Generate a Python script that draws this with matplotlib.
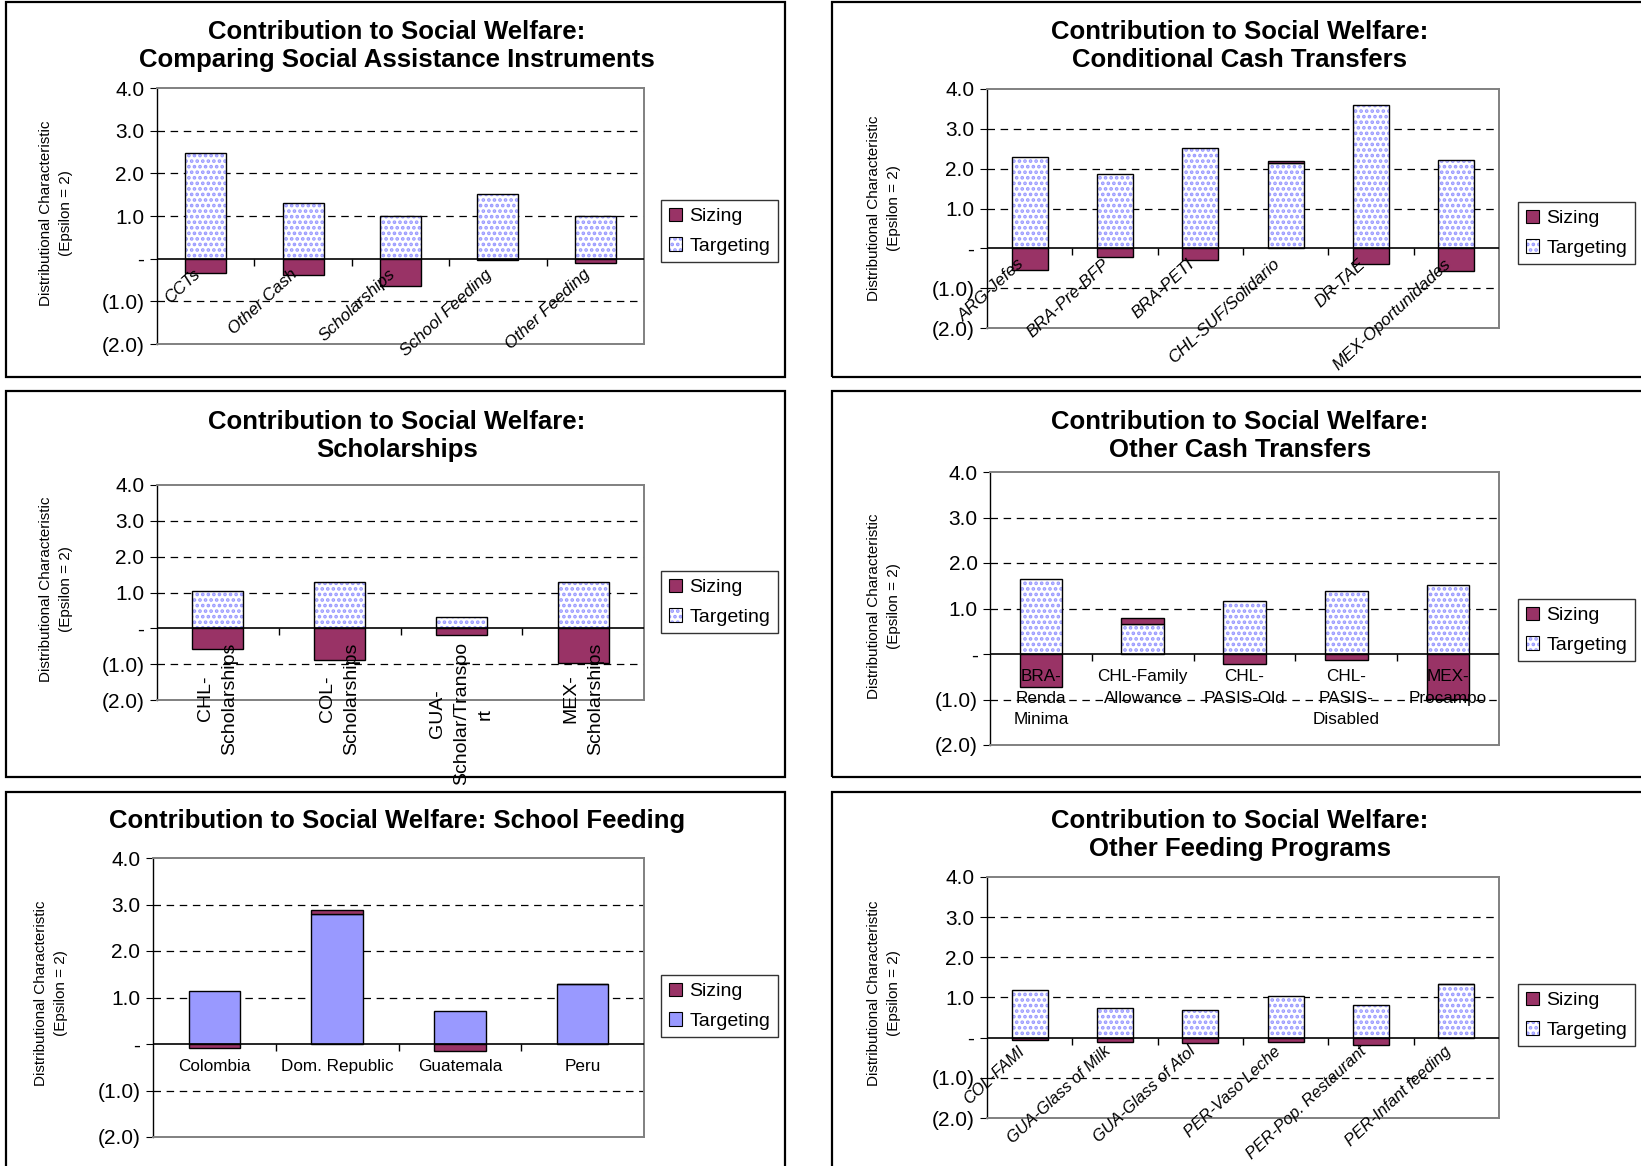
import matplotlib
matplotlib.use('Agg')
import matplotlib.pyplot as plt
import matplotlib.colors as mcolors
from matplotlib.patches import Rectangle, Patch
from matplotlib import transforms
import numpy as np

plt.rcParams['font.family'] = ['Liberation Sans', 'DejaVu Sans']
plt.rcParams['hatch.linewidth'] = 1.8

W, H = 1641, 1166
fig = plt.figure(figsize=(W / 100, H / 100), dpi=100)


def fx(x):
    return x / W


def fy(y):
    return 1 - y / H


SIZING_COLOR = '#993366'
TARGET_COLOR = '#9999FF'

# ---------------- data ----------------
inst_cats = ["CCTs", "Other Cash", "Scholarships", "School Feeding", "Other Feeding"]
inst_target = [2.48, 1.30, 0.99, 1.51, 0.99]
inst_sizing = [-0.34, -0.38, -0.65, -0.04, -0.11]

cct_cats = ["ARG-Jefes", "BRA-Pre-BFP", "BRA-PETI", "CHL-SUF/Solidario", "DR-TAE", "MEX-Oportunidades"]
cct_target = [2.30, 1.87, 2.53, 2.15, 3.60, 2.23]
cct_sizing = [-0.54, -0.22, -0.29, 0.05, -0.40, -0.58]

schol_cats = ["CHL-\nScholarships", "COL-\nScholarships", "GUA-\nScholar/Transpo\nrt", "MEX-\nScholarships"]
schol_target = [1.04, 1.29, 0.33, 1.29]
schol_sizing = [-0.59, -0.89, -0.18, -0.98]

occ_cats = ["BRA-\nRenda\nMinima", "CHL-Family\nAllowance", "CHL-\nPASIS-Old", "CHL-\nPASIS-\nDisabled", "MEX-\nProcampo"]
occ_target = [1.65, 0.66, 1.16, 1.39, 1.52]
occ_sizing = [-0.72, 0.14, -0.23, -0.13, -0.98]

sf_cats = ["Colombia", "Dom. Republic", "Guatemala", "Peru"]
sf_target = [1.13, 2.79, 0.72, 1.29]
sf_sizing = [-0.09, 0.10, -0.15, 0.0]

of_cats = ["COL-FAMI", "GUA-Glass of Milk", "GUA-Glass of Atol", "PER-Vaso Leche", "PER-Pop. Restaurant", "PER-Infant feeding"]
of_target = [1.18, 0.73, 0.70, 1.03, 0.82, 1.33]
of_sizing = [-0.07, -0.11, -0.14, -0.11, -0.19, 0.0]

yticks = [4, 3, 2, 1, 0, -1, -2]
ytick_labels = ["4.0", "3.0", "2.0", "1.0", "-", "(1.0)", "(2.0)"]
series_names = ["Sizing", "Targeting"]
ylabel_text = "Distributional Characteristic\n(Epsilon = 2)"

PX = 0.72  # points per pixel at dpi 100


def panel(box, axbox, leg_xy, title, title_xy, ylab_xy, cats, target, sizing,
          style, solid=False, rot_fs=12.3, rot_off=(-13, -8)):
    x0, y0, x1, y1 = box
    fig.add_artist(Rectangle((fx(x0), fy(y1)), (x1 - x0) / W, (y1 - y0) / H,
                             transform=fig.transFigure, fill=False,
                             edgecolor='black', lw=1.6, zorder=0))
    l, t, r, b = axbox
    ax = fig.add_axes([fx(l), fy(b), (r - l) / W, (b - t) / H])
    n = len(cats)
    x = np.arange(n)
    target = np.asarray(target)
    sizing = np.asarray(sizing)
    ax.set_xlim(-0.5, n - 0.5)
    ax.set_ylim(-2, 4)
    for g in [3, 2, 1, -1]:
        ax.axhline(g, color='black', ls=(0, (6, 4.5)), lw=0.9, zorder=1)
    hatch = None if solid else '...'
    fc = TARGET_COLOR if solid else 'white'
    tb = ax.bar(x, target, width=0.42, facecolor=fc, edgecolor='black',
                lw=1.0, hatch=hatch, zorder=3)
    if not solid:
        for p in tb:
            p._hatch_color = mcolors.to_rgba(TARGET_COLOR)
    bottoms = np.where(sizing >= 0, target, 0)
    ax.bar(x, sizing, bottom=bottoms, width=0.42, facecolor=SIZING_COLOR,
           edgecolor='black', lw=1.0, zorder=3)
    ax.axhline(0, color='black', lw=1.2, zorder=4)
    ax.plot(x[:-1] + 0.5, np.zeros(n - 1), ls='none', marker=3, ms=5,
            color='black', mew=1.0, zorder=4)
    for s in ['top', 'right', 'bottom']:
        ax.spines[s].set_color('#808080')
        ax.spines[s].set_linewidth(1.4)
    ax.spines['left'].set_color('black')
    ax.spines['left'].set_linewidth(1.0)
    ax.set_yticks(yticks)
    ax.set_yticklabels(ytick_labels)
    ax.set_xticks([])
    ax.tick_params(axis='y', direction='out', length=5, labelsize=15, pad=4)

    # category labels
    for i, c in enumerate(cats):
        if style == 'rot':
            tr = transforms.offset_copy(ax.transData, fig=fig, x=rot_off[0] * PX,
                                        y=rot_off[1] * PX, units='points')
            ax.text(i, 0, c, transform=tr, rotation=43, rotation_mode='anchor',
                    ha='right', va='top', fontsize=rot_fs, fontstyle='italic', zorder=5)
        elif style == 'vert':
            tr = transforms.offset_copy(ax.transData, fig=fig, x=0, y=-14 * PX, units='points')
            ax.text(i, 0, c, transform=tr, rotation=90, ha='center', va='top',
                    multialignment='center', fontsize=14, linespacing=1.55,
                    zorder=5, clip_on=False)
        else:
            tr = transforms.offset_copy(ax.transData, fig=fig, x=0, y=-15 * PX, units='points')
            ax.text(i, 0, c, transform=tr, ha='center', va='top',
                    multialignment='center', fontsize=12.3, linespacing=1.55, zorder=5)

    # legend
    h1 = Patch(facecolor=SIZING_COLOR, edgecolor='black', lw=0.8)
    h2 = Patch(facecolor=fc, edgecolor='black', lw=0.8, hatch=hatch)
    if not solid:
        h2._hatch_color = mcolors.to_rgba(TARGET_COLOR)
    leg = fig.legend([h1, h2], series_names, loc='upper left',
                     bbox_to_anchor=(fx(leg_xy[0]), fy(leg_xy[1])),
                     frameon=True, fancybox=False, edgecolor='black',
                     fontsize=14, handlelength=0.7, handleheight=0.7,
                     handletextpad=0.35, borderpad=0.4, labelspacing=0.6,
                     borderaxespad=0)
    leg.get_frame().set_linewidth(1.0)

    fig.text(fx(title_xy[0]), fy(title_xy[1]), title, ha='center', va='center',
             fontsize=18.5, fontweight='bold', linespacing=1.22)
    fig.text(fx(ylab_xy[0]), fy(ylab_xy[1]), ylabel_text, rotation=90,
             ha='center', va='center', fontsize=11, linespacing=1.5)
    return ax


panel((6, 2, 785, 377), (157, 88, 644, 344), (661, 200),
      "Contribution to Social Welfare:\nComparing Social Assistance Instruments",
      (397, 46), (56, 213), inst_cats, inst_target, inst_sizing, 'rot')

panel((832, 2, 1660, 377), (987, 89, 1499, 328), (1518, 202),
      "Contribution to Social Welfare:\nConditional Cash Transfers",
      (1240, 46), (884, 208), cct_cats, cct_target, cct_sizing, 'rot')

panel((6, 391, 785, 777), (157, 485, 644, 700), (661, 571),
      "Contribution to Social Welfare:\nScholarships",
      (397, 436), (56, 589), schol_cats, schol_target, schol_sizing, 'vert')

panel((832, 391, 1660, 777), (990, 472, 1499, 745), (1518, 599),
      "Contribution to Social Welfare:\nOther Cash Transfers",
      (1240, 436), (884, 606), occ_cats, occ_target, occ_sizing, 'horiz')

panel((6, 792, 785, 1180), (153, 858, 644, 1137), (661, 975),
      "Contribution to Social Welfare: School Feeding",
      (397, 821), (51, 993), sf_cats, sf_target, sf_sizing, 'horiz', solid=True)

panel((832, 792, 1660, 1180), (987, 877, 1499, 1118), (1518, 984),
      "Contribution to Social Welfare:\nOther Feeding Programs",
      (1240, 835), (884, 993), of_cats, of_target, of_sizing, 'rot', rot_fs=11.8,
      rot_off=(-12, -6))

fig.savefig('out.png', dpi=100, facecolor='white')
